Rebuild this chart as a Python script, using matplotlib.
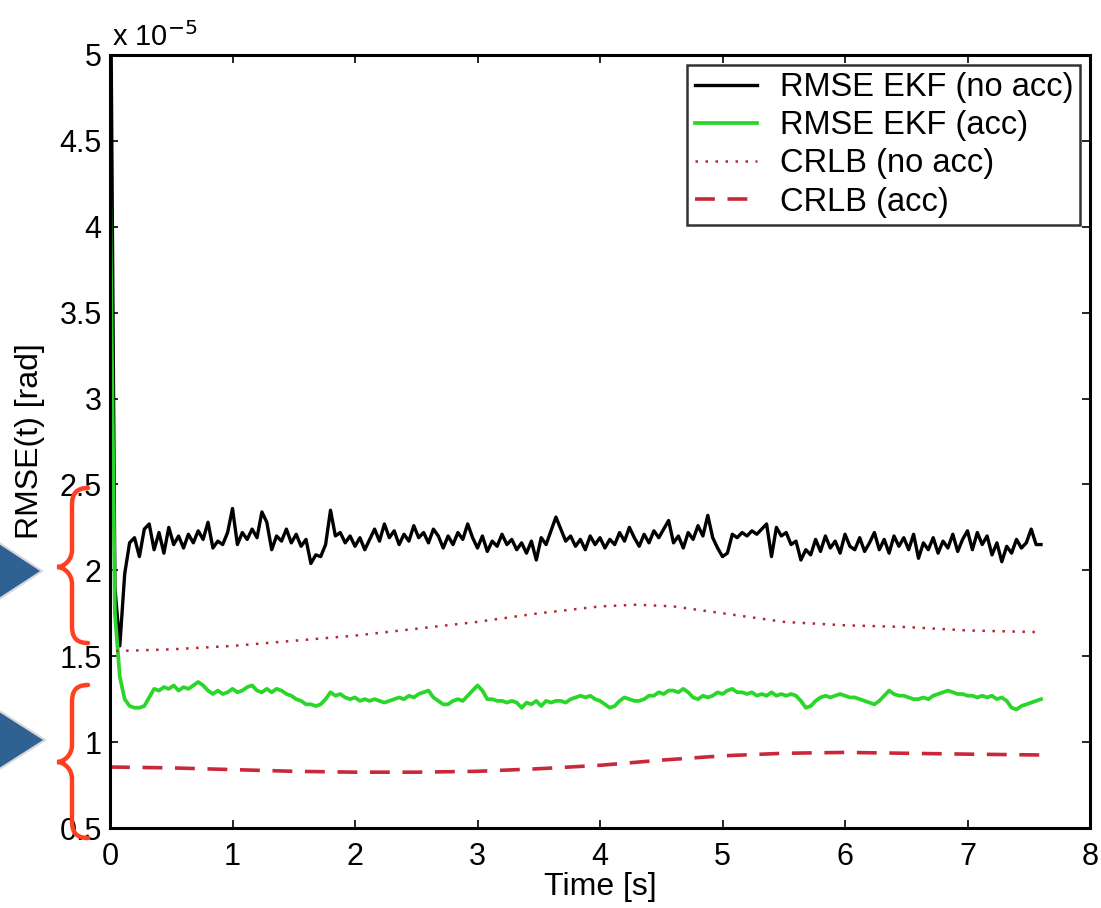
import numpy as np
import matplotlib
matplotlib.use("Agg")
import matplotlib.pyplot as plt
from matplotlib.path import Path
from matplotlib.patches import PathPatch, Polygon
from matplotlib.ticker import FuncFormatter

plt.rcParams['font.family'] = ['Liberation Sans', 'DejaVu Sans']

# ---------------- data (values in units of 1e-5 rad) ----------------
DT = 0.04
rmse_noacc = [
    6.0, 1.9, 1.56, 1.98, 2.16, 2.19, 2.08, 2.24, 2.27, 2.12,
    2.22, 2.10, 2.25, 2.15, 2.20, 2.13, 2.21, 2.16, 2.23, 2.18,
    2.28, 2.13, 2.17, 2.15, 2.22, 2.36, 2.15, 2.22, 2.18, 2.24,
    2.19, 2.34, 2.28, 2.12, 2.20, 2.17, 2.24, 2.16, 2.21, 2.14,
    2.18, 2.04, 2.09, 2.08, 2.15, 2.35, 2.20, 2.22, 2.16, 2.20,
    2.14, 2.19, 2.12, 2.18, 2.24, 2.17, 2.27, 2.19, 2.23, 2.15,
    2.21, 2.17, 2.26, 2.19, 2.22, 2.16, 2.24, 2.20, 2.13, 2.20,
    2.15, 2.22, 2.18, 2.27, 2.19, 2.13, 2.20, 2.11, 2.17, 2.14,
    2.21, 2.15, 2.18, 2.12, 2.16, 2.10, 2.17, 2.06, 2.19, 2.15,
    2.23, 2.31, 2.24, 2.17, 2.20, 2.14, 2.18, 2.12, 2.20, 2.15,
    2.19, 2.13, 2.18, 2.15, 2.22, 2.17, 2.25, 2.19, 2.14, 2.21,
    2.16, 2.23, 2.19, 2.24, 2.29, 2.16, 2.20, 2.13, 2.22, 2.18,
    2.26, 2.20, 2.32, 2.19, 2.13, 2.08, 2.10, 2.21, 2.19, 2.22,
    2.20, 2.23, 2.21, 2.24, 2.27, 2.08, 2.25, 2.20, 2.22, 2.15,
    2.17, 2.06, 2.12, 2.09, 2.18, 2.11, 2.20, 2.13, 2.17, 2.10,
    2.21, 2.14, 2.12, 2.19, 2.11, 2.16, 2.22, 2.12, 2.18, 2.10,
    2.20, 2.14, 2.19, 2.12, 2.21, 2.07, 2.16, 2.12, 2.19, 2.10,
    2.17, 2.13, 2.21, 2.11, 2.18, 2.23, 2.12, 2.22, 2.15, 2.20,
    2.09, 2.16, 2.05, 2.14, 2.10, 2.18, 2.13, 2.16, 2.24, 2.15,
    2.15,
]
rmse_acc = [
    4.25, 1.75, 1.38, 1.25, 1.21, 1.20, 1.20, 1.21, 1.26, 1.31,
    1.30, 1.32, 1.31, 1.33, 1.30, 1.32, 1.31, 1.33, 1.35, 1.33,
    1.30, 1.28, 1.30, 1.28, 1.29, 1.31, 1.29, 1.30, 1.32, 1.33,
    1.30, 1.29, 1.31, 1.29, 1.31, 1.30, 1.28, 1.27, 1.25, 1.24,
    1.22, 1.22, 1.21, 1.22, 1.25, 1.29, 1.27, 1.28, 1.26, 1.25,
    1.26, 1.24, 1.25, 1.24, 1.25, 1.24, 1.23, 1.24, 1.25, 1.26,
    1.25, 1.27, 1.26, 1.28, 1.29, 1.30, 1.26, 1.24, 1.22, 1.22,
    1.24, 1.25, 1.24, 1.27, 1.30, 1.33, 1.30, 1.25, 1.25, 1.24,
    1.24, 1.23, 1.24, 1.23, 1.20, 1.23, 1.22, 1.24, 1.21, 1.24,
    1.23, 1.24, 1.24, 1.23, 1.25, 1.26, 1.27, 1.26, 1.27, 1.25,
    1.24, 1.22, 1.20, 1.21, 1.24, 1.26, 1.25, 1.24, 1.24, 1.25,
    1.27, 1.27, 1.29, 1.28, 1.30, 1.30, 1.29, 1.31, 1.29, 1.26,
    1.25, 1.27, 1.26, 1.27, 1.29, 1.28, 1.30, 1.31, 1.29, 1.29,
    1.28, 1.29, 1.27, 1.28, 1.27, 1.29, 1.27, 1.28, 1.27, 1.28,
    1.27, 1.24, 1.20, 1.21, 1.24, 1.26, 1.27, 1.26, 1.27, 1.28,
    1.27, 1.26, 1.26, 1.25, 1.24, 1.23, 1.22, 1.24, 1.27, 1.30,
    1.28, 1.27, 1.27, 1.26, 1.25, 1.25, 1.26, 1.25, 1.27, 1.28,
    1.29, 1.30, 1.29, 1.28, 1.28, 1.27, 1.27, 1.26, 1.27, 1.26,
    1.27, 1.25, 1.26, 1.24, 1.20, 1.19, 1.21, 1.22, 1.23, 1.24,
    1.25,
]
time_s = np.arange(len(rmse_noacc)) * DT

crlb_noacc_t = [0.05, 0.5, 1.0, 1.5, 2.0, 2.5, 3.0, 3.5, 4.0, 4.3, 4.6, 5.0, 5.5, 6.0, 6.5, 7.0, 7.6]
crlb_noacc = [1.53, 1.54, 1.56, 1.59, 1.62, 1.66, 1.70, 1.75, 1.79, 1.80, 1.79, 1.75, 1.70, 1.68, 1.67, 1.65, 1.64]

crlb_acc_t = [0.0, 0.5, 1.0, 1.5, 2.0, 2.5, 3.0, 3.5, 4.0, 4.5, 5.0, 5.5, 6.0, 6.5, 7.0, 7.6]
crlb_acc = [0.855, 0.85, 0.84, 0.83, 0.825, 0.825, 0.83, 0.845, 0.865, 0.895, 0.92, 0.935, 0.94, 0.935, 0.93, 0.925]

labels = ['RMSE EKF (no acc)', 'RMSE EKF (acc)', 'CRLB (no acc)', 'CRLB (acc)']
x_ticks = [0, 1, 2, 3, 4, 5, 6, 7, 8]
y_ticks = [0.5, 1, 1.5, 2, 2.5, 3, 3.5, 4, 4.5, 5]

# ---------------- figure ----------------
W, H = 1101, 908
fig = plt.figure(figsize=(W / 100, H / 100), dpi=100)
ax = fig.add_axes([110 / W, 1 - 828 / H, (1090 - 110) / W, (828 - 55) / H])

ax.plot(time_s, rmse_noacc, color='black', lw=2.4, label=labels[0])
ax.plot(time_s, rmse_acc, color='#2bd62b', lw=2.7, label=labels[1])
ax.plot(crlb_noacc_t, crlb_noacc, color='#b02a35', lw=1.8, dashes=(1, 3.0), label=labels[2])
ax.plot(crlb_acc_t, crlb_acc, color='#c8283a', lw=2.6, dashes=(5.5, 3.5), label=labels[3])

ax.set_xlim(0, 8)
ax.set_ylim(0.5, 5)
ax.set_xticks(x_ticks)
ax.set_yticks(y_ticks)
fmt = FuncFormatter(lambda v, p: '%g' % v)
ax.xaxis.set_major_formatter(fmt)
ax.yaxis.set_major_formatter(fmt)
ax.tick_params(direction='in', length=6, width=1.2, labelsize=22,
               top=True, right=True, pad=6)
ax.tick_params(axis='x', pad=10)
for s in ax.spines.values():
    s.set_linewidth(2.2)

ax.set_xlabel('Time [s]', fontsize=23, labelpad=0)
ax.set_ylabel('RMSE(t) [rad]', fontsize=23)
ax.yaxis.set_label_coords(-0.066, 0.5)

fig.text(112 / W, 1 - 46 / H, r'x 10$^{-5}$', fontsize=21, ha='left', va='baseline')

leg = ax.legend(loc='upper right', fontsize=23.5, frameon=True, fancybox=False,
                borderaxespad=0.3, handlelength=1.9, handletextpad=0.7,
                labelspacing=0.22, borderpad=0.22)
leg.get_frame().set_edgecolor('black')
leg.get_frame().set_linewidth(1.8)

# ---------------- annotations: blue arrows and red braces ----------------
def fpt(x, y):
    return (x / W, 1 - y / H)

tri_color = '#2f6193'
for tip_x, tip_y, half in [(42, 571, 27), (45, 740, 28)]:
    tri = Polygon([fpt(-10, tip_y - half - 7), fpt(-10, tip_y + half + 7), fpt(tip_x, tip_y)],
                  closed=True, transform=fig.transFigure, facecolor=tri_color,
                  edgecolor='#d8d8d8', lw=1.5, clip_on=False, zorder=5)
    fig.add_artist(tri)

def brace(y0, ym, y1, xe=88, xs=72, xt=57):
    verts = [
        (xe, y0), (xs + 4, y0), (xs, y0 + 6), (xs, y0 + 17),
        (xs, ym - 17),
        (xs, ym - 7), (xt + 7, ym), (xt, ym),
        (xt + 7, ym), (xs, ym + 7), (xs, ym + 17),
        (xs, y1 - 17),
        (xs, y1 - 6), (xs + 4, y1), (xe, y1),
    ]
    codes = [Path.MOVETO, Path.CURVE4, Path.CURVE4, Path.CURVE4,
             Path.LINETO,
             Path.CURVE4, Path.CURVE4, Path.CURVE4,
             Path.CURVE4, Path.CURVE4, Path.CURVE4,
             Path.LINETO,
             Path.CURVE4, Path.CURVE4, Path.CURVE4]
    path = Path([fpt(x, y) for x, y in verts], codes)
    return PathPatch(path, transform=fig.transFigure, facecolor='none',
                     edgecolor='#ff4020', lw=3.2, capstyle='round', zorder=6)

fig.add_artist(brace(488, 567, 643))
fig.add_artist(brace(685, 762, 838))

fig.savefig('out.png', dpi=100)
